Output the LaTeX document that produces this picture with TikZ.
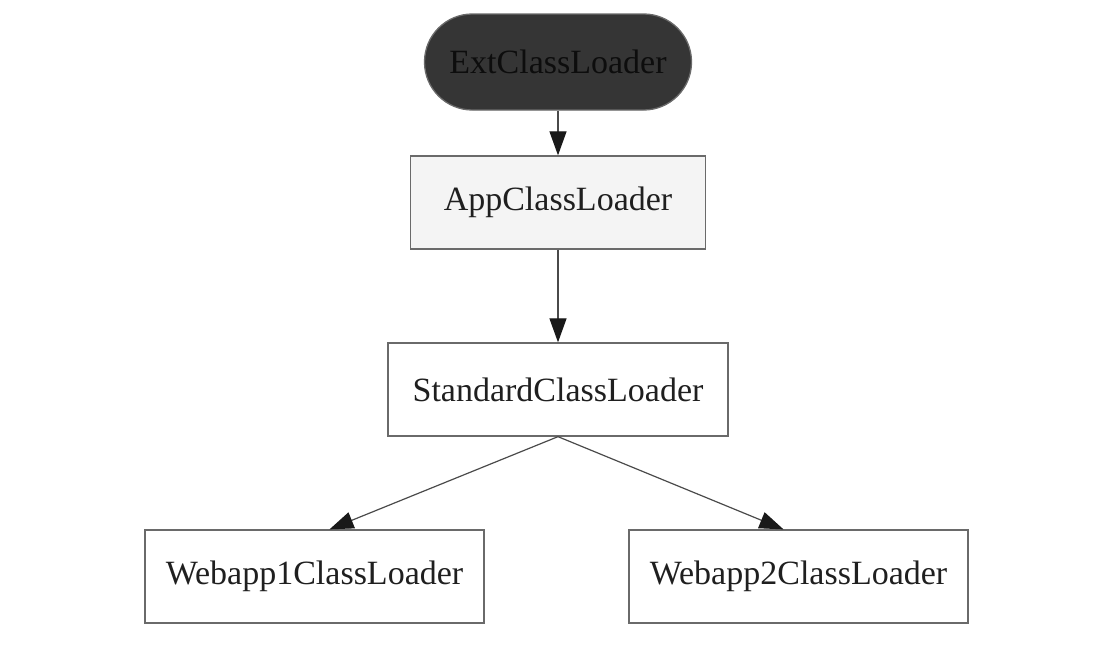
\documentclass[tikz,border=0pt]{standalone}
\usepackage{fontspec}
\setmainfont{Liberation Serif}
\usetikzlibrary{arrows.meta}
\definecolor{edgegray}{HTML}{4A4A4A}
\definecolor{boxgray}{HTML}{6A6A6A}
\definecolor{darkfill}{HTML}{353535}
\definecolor{lightfill}{HTML}{F4F4F4}
\tikzset{
  loader/.style={draw=boxgray, line width=1.3pt, rectangle, inner sep=0pt,
    minimum height=93pt, font=\fontsize{34}{40}\selectfont, text=black!88},
  conn/.style={draw=edgegray, line width=1.2pt,
    -{Triangle[length=24pt,width=17pt,fill=black!90,color=black!90]}}
}
\begin{document}
\begin{tikzpicture}[x=1pt,y=-1pt]
\useasboundingbox (0,0) rectangle (1094,664);
\node[loader, minimum width=267pt, minimum height=96pt, rounded corners=47.9pt,
  fill=darkfill, text=black!95] (ext) at (558,62) {ExtClassLoader};
\node[loader, minimum width=295pt, fill=lightfill] (app) at (558,202.5) {AppClassLoader};
\node[loader, minimum width=340pt] (std) at (558,389.5) {StandardClassLoader};
\node[loader, minimum width=339pt] (w1) at (314.5,576.5) {Webapp1ClassLoader};
\node[loader, minimum width=339pt] (w2) at (798.5,576.5) {Webapp2ClassLoader};
\draw[conn] (ext.south) -- (app.north);
\draw[conn] (app.south) -- (std.north);
\draw[conn] (std.south) -- ([xshift=15pt]w1.north);
\draw[conn] (std.south) -- ([xshift=-15pt]w2.north);
\end{tikzpicture}
\end{document}
